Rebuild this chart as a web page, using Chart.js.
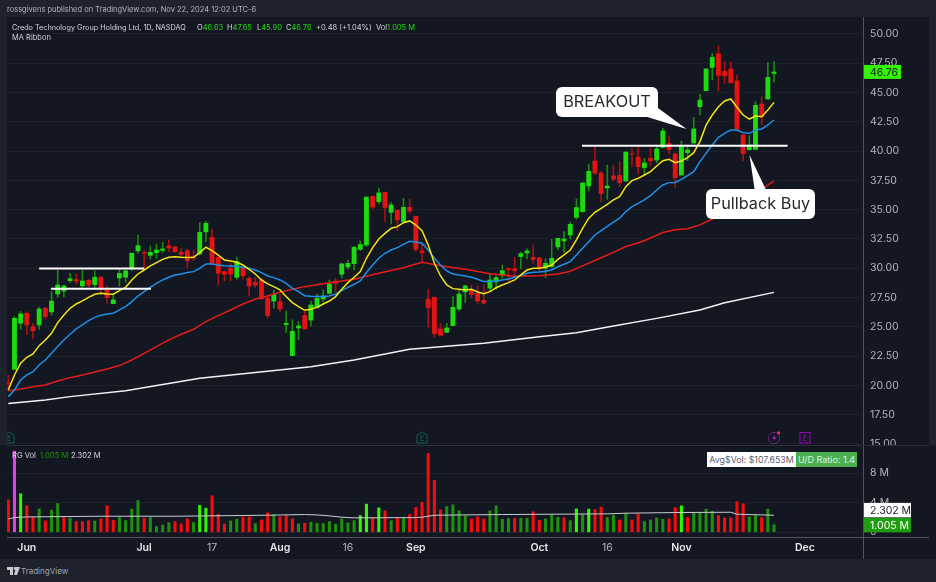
<!DOCTYPE html>
<html lang="en">
<head>
    <meta charset="UTF-8">
    <title>CRDO daily</title>
    <script src="https://cdn.jsdelivr.net/npm/chart.js"></script>
    <style>
        html, body { margin: 0; padding: 0; width: 936px; height: 582px; background: #1e222d; overflow: hidden; font-family: Inter, "Noto Sans", sans-serif; }
        #panel { position: absolute; left: 7px; top: 17px; width: 922px; height: 542px; background: #131722; }
        canvas { position: absolute; left: 0; display: block; }
        #priceChart { top: 1px; }
        #volChart { top: 445px; background: #131722; }
        .txt { position: absolute; white-space: pre; }
        .line { position: absolute; }
        .up { color: #22d80f; }
        .mark { position: absolute; top: 431px; width: 12px; height: 13px; overflow: hidden; }
        .head { font-size: 7.5px; top: 23px; color: #d1d4dc; }
    </style>
</head>
<body>
    <div id="panel"></div>
    <canvas id="priceChart" width="936" height="451"></canvas>
    <canvas id="volChart" width="936" height="114"></canvas>

    <!-- axis frame -->
    <div class="line" style="left:863px;top:17px;width:1px;height:542px;background:#50535e"></div>
    <div class="line" style="left:7px;top:537px;width:922px;height:1px;background:#50535e"></div>
    <div class="line" style="left:7px;top:445px;width:922px;height:1px;background:#2a2e39"></div>

    <div class="txt" style="left:7px;top:5px;font-size:7.5px;color:#b2b5be">rossgivens published on TradingView.com, Nov 22, 2024 12:02 UTC-6</div>
    <div class="txt head" style="left:12px;font-size:7.25px">Credo Technology Group Holding Ltd, 1D, NASDAQ</div>
    <div class="txt head" style="left:197px">O<span class="up">46.63</span></div>
    <div class="txt head" style="left:227px">H<span class="up">47.65</span></div>
    <div class="txt head" style="left:257px">L<span class="up">45.90</span></div>
    <div class="txt head" style="left:286px">C<span class="up">46.76</span></div>
    <div class="txt head up" style="left:316px">+0.48 (+1.04%)</div>
    <div class="txt head" style="left:376px">Vol<span class="up">1.005 M</span></div>
    <div class="txt head" style="left:12px;top:33px">MA Ribbon</div>

    <div class="txt" style="left:12px;top:451px;font-size:7.6px;color:#d1d4dc">RG Vol</div>
    <div class="txt" style="left:40px;top:451px;font-size:7.6px;color:#1f8f0e">1.005 M</div>
    <div class="txt" style="left:71px;top:451px;font-size:7.6px;color:#d1d4dc">2.302 M</div>

    <div class="txt" style="left:707px;top:452px;width:89px;height:15px;line-height:15px;background:#fff;color:#5d606b;font-size:8.8px;text-align:center">Avg$Vol: $107.653M</div>
    <div class="txt" style="left:796px;top:452px;width:61px;height:15px;line-height:15px;background:#4caf50;color:#dff2e0;font-size:9px;text-align:center">U/D Ratio: 1.4</div>

    <!-- earnings and dividend markers -->
    <svg class="mark" style="left:7px;width:8px" viewBox="0 0 8 13"><polygon points="-4,4 2,1 7,4 7,12 -4,12" fill="none" stroke="#0d5c52" stroke-width="1"/><text x="2" y="10" font-size="7" fill="#0f7a6c" text-anchor="middle" font-family="Inter">E</text></svg>
    <svg class="mark" style="left:416px" viewBox="0 0 12 13"><polygon points="1,4 6,1 11,4 11,12 1,12" fill="none" stroke="#0d5c52" stroke-width="1"/><text x="6" y="10" font-size="7" fill="#0f7a6c" text-anchor="middle" font-family="Inter">E</text></svg>
    <svg class="mark" style="left:767px;width:15px;height:15px;top:430px" viewBox="0 0 15 15"><circle cx="7" cy="8" r="5.6" fill="none" stroke="#6a1b8a" stroke-width="1"/><polygon points="8,4.5 5,8.5 7,8.5 6,11.5 9.5,7 7.5,7" fill="#9c27b0"/><circle cx="11.5" cy="2.8" r="1.5" fill="#f23645"/></svg>
    <svg class="mark" style="left:799px" viewBox="0 0 12 13"><rect x="1" y="1.5" width="10" height="10.5" fill="none" stroke="#a000c0" stroke-width="1"/><text x="6" y="10" font-size="7" fill="#b010d0" text-anchor="middle" font-family="Inter">E</text></svg>

    <!-- footer logo -->
    <svg style="position:absolute;left:7px;top:567px" width="13" height="8" viewBox="0 0 13 8"><path d="M0 0h6v8H3V3H0z M9 0h4l-3 8H7z" fill="#c8cad0"/><circle cx="8" cy="1.5" r="1.4" fill="#c8cad0"/></svg>
    <div class="txt" style="left:21px;top:566px;font-size:8px;color:#a3a6af">TradingView</div>

    <script>
        // Daily bars, May 29 to Nov 22 2024, x is the trading-day number
        const opens = [
            20.2,21.37,25.3,26.15,25.0,25.16,26.58,26.27,27.8,28.06,
            28.94,29.03,28.49,28.97,28.6,29.23,28.15,26.98,29.17,29.23,
            30.0,31.48,31.33,31.1,31.33,31.53,31.9,31.82,31.36,31.5,
            31.0,31.22,33.1,32.64,30.94,29.71,30.0,29.23,30.05,29.14,
            28.8,29.0,27.44,27.2,27.15,25.19,22.54,24.9,25.96,25.58,
            26.67,27.38,27.86,28.9,29.48,30.11,30.39,31.62,31.99,36.14,
            35.69,36.48,34.78,34.95,33.98,35.2,34.43,31.48,27.35,27.52,
            24.82,24.53,25.1,26.52,27.98,28.2,27.86,27.26,28.3,28.83,
            29.4,29.97,29.94,31.0,31.3,30.93,30.88,30.0,30.14,31.82,
            32.33,32.84,34.35,34.84,37.03,39.16,38.13,36.85,37.88,37.93,
            37.45,39.78,39.5,38.6,39.38,39.24,40.32,40.66,39.75,37.96,
            39.87,40.69,43.8,45.16,47.15,48.32,46.81,47.01,45.99,41.38,
            40.12,40.15,44.02,44.45,46.63
        ];
        const closes = [
            20.15,25.73,26.1,25.16,24.67,26.52,25.87,27.2,28.57,28.49,
            29.11,28.9,28.91,28.57,29.23,28.32,27.5,27.3,29.57,29.77,
            31.28,31.93,31.28,31.36,31.56,31.65,31.73,31.42,31.19,30.65,
            30.85,33.07,33.84,30.42,29.57,29.5,29.5,30.57,29.37,28.49,
            28.55,27.38,25.96,27.78,26.52,25.3,24.62,25.07,24.82,26.86,
            27.43,27.63,28.66,28.7,30.37,30.42,31.79,32.02,36.08,35.23,
            36.43,35.2,35.4,34.12,35.2,34.89,31.62,31.33,26.64,24.42,
            24.28,24.9,26.67,27.8,28.49,27.75,27.2,27.03,29.0,29.2,
            29.8,29.88,29.8,31.25,31.48,30.76,29.94,30.42,30.85,32.56,
            32.5,33.75,35.18,37.28,38.28,38.13,36.37,37.02,37.62,37.3,
            39.92,39.75,38.67,38.99,39.18,40.18,41.72,40.12,37.73,40.38,
            40.1,41.89,44.36,47.01,48.0,46.47,46.44,45.84,41.86,39.78,
            40.52,43.91,42.94,46.3,46.76
        ];
        const highs = [
            20.9,25.87,26.3,26.3,25.3,26.67,26.67,28.0,29.85,28.57,
            29.57,29.5,29.8,29.06,29.77,29.3,28.49,27.78,30.0,29.9,
            31.3,32.84,31.5,31.9,32.07,32.2,32.4,31.9,31.7,31.62,
            31.56,33.9,33.98,33.35,31.0,29.77,30.42,30.94,30.14,29.3,
            29.23,29.14,27.72,28.15,27.78,26.35,25.6,25.44,26.3,27.2,
            27.8,28.15,29.0,29.14,30.42,30.7,31.85,32.33,36.08,36.17,
            36.82,36.51,35.6,34.98,35.97,35.9,34.46,32.07,28.2,27.55,
            25.3,25.3,27.58,28.09,28.57,28.57,28.49,28.57,29.57,29.34,
            30.28,30.05,30.93,31.36,31.65,31.99,30.93,30.8,32.47,32.56,
            33.13,33.93,35.92,37.34,38.9,40.38,38.25,38.8,38.8,39.1,
            39.95,40.24,40.32,39.38,40.24,40.44,41.95,41.29,39.85,40.86,
            40.52,42.88,44.85,47.07,48.35,48.97,47.64,47.58,46.5,41.43,
            41.32,44.22,44.65,47.55,47.65
        ];
        const lows = [
            19.6,21.37,24.8,24.36,23.96,24.8,25.64,26.0,27.52,27.58,
            28.8,28.66,28.37,28.37,28.37,27.8,27.0,26.98,28.49,28.8,
            29.8,31.28,30.05,30.79,30.85,31.36,31.42,31.36,30.94,30.05,
            30.65,31.13,32.27,30.28,28.57,28.9,28.94,29.06,29.09,27.63,
            28.37,27.35,25.73,26.58,26.3,24.5,22.54,23.88,24.8,25.07,
            26.67,27.15,27.8,28.0,29.14,29.91,29.85,31.5,31.85,35.03,
            35.49,33.98,33.78,33.2,33.98,34.69,31.42,30.54,24.96,24.1,
            24.25,24.5,25.1,26.35,27.06,27.43,26.95,26.95,28.0,28.2,
            29.14,28.9,29.23,29.94,30.8,30.42,29.71,29.2,30.08,31.56,
            31.36,32.5,34.2,34.78,36.6,37.96,35.68,35.88,37.45,36.97,
            37.4,38.67,38.05,38.05,38.8,39.0,40.27,39.75,36.91,37.96,
            39.18,40.66,43.08,45.13,46.07,45.13,45.79,45.79,41.86,39.18,
            40.1,40.15,42.23,44.45,45.9
        ];

        // Moving averages
        const maYellow = [
            19.61,20.89,21.89,22.4,22.68,23.39,23.88,24.45,25.36,26.01,
            26.58,26.95,27.21,27.52,27.78,27.86,27.8,27.78,28.09,28.37,
            29.0,29.51,29.85,30.2,30.48,30.76,30.94,30.99,30.94,30.91,
            30.94,31.33,31.79,31.5,31.13,30.71,30.62,30.51,30.28,29.91,
            29.51,29.0,28.66,28.43,28.15,27.58,27.07,26.72,26.41,26.5,
            26.66,26.95,27.2,27.58,28.2,28.77,29.23,29.71,30.85,31.76,
            32.5,32.98,33.41,33.55,33.89,34.04,33.69,33.21,31.99,30.42,
            29.34,28.57,28.26,28.2,28.15,28.2,27.97,27.83,28.0,28.34,
            28.57,28.77,29.0,29.43,29.85,30.0,30.0,30.11,30.28,30.76,
            31.14,31.56,32.42,33.41,34.27,34.78,35.12,35.46,35.83,36.12,
            36.97,37.48,37.68,37.96,38.25,38.73,39.18,39.3,39.01,39.16,
            39.44,39.87,40.81,42.23,43.08,43.79,44.28,44.45,43.74,43.08,
            42.74,43.0,42.94,43.51,44.16
        ];
        const maBlue = [
            19.04,19.61,20.46,20.89,21.17,21.74,22.17,22.74,23.31,23.88,
            24.36,24.82,25.16,25.53,25.81,25.98,26.1,26.15,26.44,26.72,
            27.15,27.63,28.0,28.37,28.71,29.0,29.23,29.43,29.51,29.63,
            29.71,30.0,30.37,30.37,30.28,30.22,30.2,30.14,30.08,30.0,
            29.85,29.63,29.34,29.2,29.0,28.71,28.29,28.0,27.66,27.6,
            27.58,27.58,27.63,27.8,28.09,28.37,28.63,28.91,29.63,30.28,
            30.85,31.28,31.56,31.76,32.04,32.3,32.24,32.13,31.56,30.85,
            30.28,29.77,29.51,29.43,29.34,29.23,29.06,28.86,28.86,28.91,
            29.0,29.08,29.23,29.37,29.57,29.65,29.68,29.74,29.85,30.14,
            30.34,30.57,31.14,31.71,32.27,32.84,33.21,33.58,33.93,34.27,
            34.84,35.26,35.54,35.83,36.2,36.68,37.11,37.31,37.33,37.59,
            37.9,38.25,39.1,39.81,40.52,41.18,41.52,41.8,41.8,41.57,
            41.52,41.8,41.89,42.23,42.66
        ];
        // the two slow averages only bend gently, so they are read at fewer bars
        const maRedDays = [0,2,4,6,8,10,12,14,16,18,20,22,24,26,28,30,32,34,36,38,40,42,44,46,48,52,56,60,64,67,70,74,78,82,86,89,91,93,96,98,100,101,103,106,108,110,112,114,116,118,120,122,123,124];
        const maRed = [19.55,19.7,19.89,20.04,20.38,20.66,20.89,21.15,21.4,21.69,22.17,22.74,23.31,23.88,24.36,24.79,25.44,25.96,26.44,26.95,27.35,27.63,27.95,28.2,28.43,28.77,29.06,29.57,30.05,30.51,30.22,29.91,29.54,29.31,29.37,29.51,29.75,30.2,30.9,31.36,31.85,32.0,32.35,33.05,33.28,33.38,33.7,34.2,34.8,35.4,36.0,36.7,37.1,37.45];
        const maWhiteDays = [0,6,10,19,31,49,56,65,77,86,92,98,105,112,116,124];
        const maWhite = [18.45,18.76,19.04,19.55,20.6,21.6,22.17,23.08,23.59,24.16,24.5,25.07,25.72,26.43,27.06,27.94];

        // Volume in millions, R down, G up, B strong up, M climax
        const volumes = [
            4.39,10.95,5.2,3.57,2.04,3.17,1.54,2.99,3.89,1.99,
            1.9,1.45,1.45,1.58,1.54,1.81,3.57,1.63,1.99,1.58,
            3.12,4.3,1.9,1.99,0.77,1.0,1.31,1.45,1.13,1.81,
            1.31,3.62,3.26,4.93,2.44,1.13,1.54,1.76,2.08,2.08,
            1.18,1.67,2.62,2.4,2.08,2.26,1.81,1.13,1.22,1.36,
            1.22,1.18,1.45,1.09,1.81,1.27,1.58,2.26,3.8,1.9,
            3.3,2.9,1.58,1.95,1.95,2.4,3.35,4.03,10.63,7.01,
            3.03,3.48,3.71,2.9,2.22,1.81,2.08,1.81,2.9,3.57,
            1.76,1.86,1.9,1.9,1.9,2.76,1.63,1.81,2.35,2.04,
            1.95,1.58,3.17,2.4,3.12,3.08,3.39,1.99,2.31,1.67,
            2.58,1.67,2.49,1.45,1.67,1.95,1.76,1.81,3.35,3.57,
            1.99,2.62,2.62,3.12,2.85,2.26,1.95,1.95,4.12,3.85,
            2.08,2.26,1.99,3.12,1.005
        ];
        const volKinds = ('RMBRRGRGGRGRRRGRRRGGGGRGGGGRRRGBBRRRGGRRGRRGRRRGR' +
            'GGGGGGGGBBRBRGRGRRRRRRGGGGRRRGGGGRGGRRGGGRGBGBRRGGRGRRGGGGRRBRGGGGRRRRRGGRGG').split('');
        const volMaDays = [0,1,3,15,27,42,48,50,52,54,56,66,67,69,80,97,100,108,117,118,124];
        const volMa = [1.81,1.99,2.08,2.17,2.17,2.31,2.4,2.35,2.22,2.04,1.95,1.99,2.04,2.31,2.4,2.49,2.58,2.67,2.71,2.44,2.302];

        // Tick labels
        const priceTicks = [15,17.5,20,22.5,25,27.5,30,32.5,35,37.5,40,42.5,45,47.5,50];
        const volTicks = [0,4,8];
        const dateDays = [3,22,33,44,55,66,86,97,109,129];
        const dateLabels = ['Jun','Jul','17','Aug','16','Sep','Oct','16','Nov','Dec'];

        // Drawn levels: [first day, last day, price]
        const levels = [[5,22,29.98],[6.9,23.1,28.25],[92.9,126.2,40.46]];

        const xRange = { min: -0.21, max: 138.41 };
        const gridColor = '#1c202b', tickColor = '#b2b5be';
        const font = 'Inter, "Noto Sans", sans-serif';
        const days = opens.map((_, i) => i);
        const zip = (xs, ys) => xs.map((x, i) => ({ x: x, y: ys[i] }));
        const isUp = i => closes[i] >= opens[i];
        // months are printed brighter and bolder than the mid-month days
        const isMonth = ctx => ctx.tick && isNaN(dateLabels[dateDays.indexOf(ctx.tick.value)]);

        const lineSet = (data, color, width) => ({
            type: 'line', data: data, borderColor: color, borderWidth: width,
            pointRadius: 0, tension: 0, order: 0
        });

        const fitAxis = (scale) => {
            scale.width = 73;
            scale.paddingTop = 0;
            scale.paddingBottom = 0;
        };

        // speech bubble with a tail, tail points are canvas pixels
        const bubble = (ctx, box, tail, text) => {
            ctx.save();
            ctx.fillStyle = '#fff';
            ctx.beginPath();
            ctx.roundRect(box.x, box.y, box.w, box.h, 6);
            ctx.fill();
            ctx.beginPath();
            ctx.moveTo(tail[0][0], tail[0][1]);
            ctx.lineTo(tail[1][0], tail[1][1]);
            ctx.lineTo(tail[2][0], tail[2][1]);
            ctx.closePath();
            ctx.fill();
            ctx.fillStyle = '#26282e';
            ctx.font = '16.3px ' + font;
            ctx.textAlign = 'center';
            ctx.textBaseline = 'middle';
            ctx.fillText(text, box.x + box.w / 2, box.y + box.h / 2 + 0.5);
            ctx.restore();
        };

        const badge = (ctx, x, y, w, h, fill, color, text) => {
            ctx.save();
            ctx.fillStyle = fill;
            ctx.fillRect(x, y, w, h);
            ctx.fillStyle = color;
            ctx.font = '10.5px ' + font;
            ctx.textAlign = 'left';
            ctx.textBaseline = 'middle';
            ctx.fillText(text, x + 7, y + h / 2 + 0.5);
            ctx.restore();
        };

        const priceOverlay = {
            id: 'priceOverlay',
            afterDraw(chart) {
                const ctx = chart.ctx;
                // canvas sits one pixel down, hence the -1 on the tails and boxes
                bubble(ctx, { x: 556, y: 86, w: 102, h: 30 }, [[644, 115], [686.5, 128], [658, 107]], 'BREAKOUT');
                bubble(ctx, { x: 706, y: 188, w: 109, h: 30 }, [[755, 191], [749.5, 154], [767, 191]], 'Pullback Buy');
                const last = closes[closes.length - 1];
                const y = chart.scales.y.getPixelForValue(last);
                badge(ctx, 863, y - 7, 38, 14, '#33f500', '#131722', last.toFixed(2));
            }
        };

        const volOverlay = {
            id: 'volOverlay',
            afterDraw(chart) {
                const ctx = chart.ctx;
                const yVol = chart.scales.y.getPixelForValue(volumes[volumes.length - 1]);
                // the two labels would overlap, the average is pushed up like on the original
                badge(ctx, 863, yVol - 22, 48, 14.5, '#ffffff', '#131722', volMa[volMa.length - 1].toFixed(3) + ' M');
                badge(ctx, 863, yVol - 7, 48, 14.5, '#1f9c0f', '#ffffff', volumes[volumes.length - 1].toFixed(3) + ' M');
            }
        };

        // Price pane
        new Chart(document.getElementById('priceChart'), {
            type: 'bar',
            data: {
                datasets: [
                    ...levels.map(l => lineSet([{ x: l[0], y: l[2] }, { x: l[1], y: l[2] }], '#ffffff', 2)),
                    lineSet(zip(days, maYellow), '#f5e513', 1.5),
                    lineSet(zip(days, maBlue), '#1e90e8', 1.5),
                    lineSet(zip(maRedDays, maRed), '#e81b1b', 1.5),
                    lineSet(zip(maWhiteDays, maWhite), '#f2f3f5', 1.5),
                    {
                        data: days.map(i => ({ x: i, y: [opens[i], closes[i]] })),
                        backgroundColor: days.map(i => isUp(i) ? '#1edb0f' : '#e21414'),
                        barThickness: 4.2, grouped: false, order: 1
                    },
                    {
                        data: days.map(i => ({ x: i, y: [lows[i], highs[i]] })),
                        backgroundColor: days.map(i => isUp(i) ? '#178c0c' : '#a81212'),
                        barThickness: 1, grouped: false, order: 2
                    }
                ]
            },
            plugins: [priceOverlay],
            options: {
                responsive: false,
                animation: false,
                layout: { padding: { left: 7, top: 16, bottom: 7, right: 0 } },
                plugins: { legend: { display: false }, tooltip: { enabled: false } },
                scales: {
                    x: { type: 'linear', min: xRange.min, max: xRange.max, offset: false, display: false },
                    y: {
                        type: 'linear', position: 'right', min: 14.91, max: 51.45,
                        afterFit: fitAxis,
                        afterBuildTicks: s => { s.ticks = priceTicks.map(v => ({ value: v })); },
                        grid: { color: gridColor, drawTicks: false },
                        border: { display: false },
                        ticks: {
                            color: tickColor, padding: 7, autoSkip: false,
                            font: { family: font, size: 10.5 },
                            callback: v => v.toFixed(2)
                        }
                    }
                }
            }
        });

        const volColors = { R: '#f50d0d', G: '#1f8f0e', B: '#33f500', M: '#e040e8' };

        // Volume pane
        new Chart(document.getElementById('volChart'), {
            type: 'bar',
            data: {
                datasets: [
                    lineSet(zip(volMaDays, volMa), '#c9ccd3', 1),
                    {
                        data: days.map(i => ({ x: i, y: volumes[i] })),
                        backgroundColor: volKinds.map(k => volColors[k]),
                        barThickness: 2.4, grouped: false, order: 1
                    }
                ]
            },
            plugins: [volOverlay],
            options: {
                responsive: false,
                animation: false,
                layout: { padding: { left: 7, top: 0, bottom: 0, right: 0 } },
                plugins: { legend: { display: false }, tooltip: { enabled: false } },
                scales: {
                    x: {
                        type: 'linear', min: xRange.min, max: xRange.max, offset: false,
                        afterFit: s => { s.height = 22; s.paddingLeft = 0; s.paddingRight = 0; },
                        afterBuildTicks: s => { s.ticks = dateDays.map(v => ({ value: v })); },
                        grid: { display: false, drawTicks: false },
                        border: { display: false },
                        ticks: {
                            padding: 5, autoSkip: false, maxRotation: 0,
                            color: ctx => isMonth(ctx) ? '#e4e6ea' : tickColor,
                            font: ctx => ({ family: font, size: 10.5, weight: isMonth(ctx) ? '600' : '400' }),
                            callback: v => dateLabels[dateDays.indexOf(v)]
                        }
                    },
                    y: {
                        type: 'linear', position: 'right', min: -0.63, max: 11.78,
                        afterFit: fitAxis,
                        afterBuildTicks: s => { s.ticks = volTicks.map(v => ({ value: v })); },
                        grid: { color: gridColor, drawTicks: false },
                        border: { display: false },
                        ticks: {
                            color: tickColor, padding: 7, autoSkip: false,
                            font: { family: font, size: 10.5 },
                            callback: v => v === 0 ? '0' : v + ' M'
                        }
                    }
                }
            }
        });
    </script>
</body>
</html>
